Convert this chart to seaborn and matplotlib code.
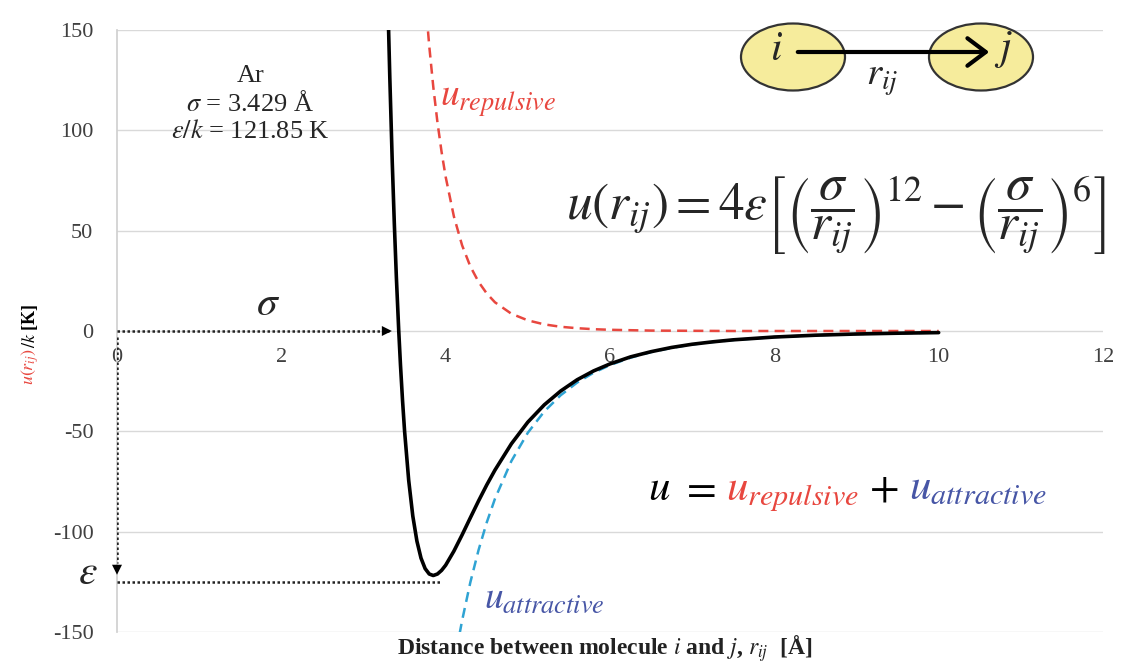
import matplotlib
matplotlib.use("Agg")
import matplotlib.pyplot as plt
from matplotlib.patches import Ellipse, FancyArrowPatch
import seaborn as sns

# Lennard-Jones parameters for argon (shown in the annotation)
sigma = 3.429
eps_k = 121.85

# total potential u(r)/k [K]
r_total = [3.30, 3.32, 3.35, 3.375, 3.40, 3.429, 3.45, 3.475, 3.50, 3.55, 3.60, 3.65,
           3.70, 3.75, 3.80, 3.849, 3.90, 3.95, 4.00, 4.10, 4.20, 4.30, 4.40, 4.50,
           4.60, 4.80, 5.00, 5.20, 5.40, 5.60, 5.80, 6.00, 6.25, 6.50, 6.75, 7.00,
           7.25, 7.50, 8.00, 8.50, 9.00, 9.50, 10.00]
u_total = [158.7, 126.6, 84.1, 53.6, 26.8, 0.0, -16.9, -34.6, -49.9, -74.4, -92.2, -104.7,
           -113.2, -118.4, -121.1, -121.85, -121.1, -119.3, -116.7, -109.7, -101.6, -93.1, -84.7, -76.7,
           -69.3, -56.2, -45.4, -36.8, -29.9, -24.3, -19.9, -16.4, -12.9, -10.3, -8.2, -6.6,
           -5.4, -4.4, -3.0, -2.1, -1.5, -1.1, -0.8]

# repulsive part (red dashed)
r_rep = [3.75, 3.80, 3.85, 3.90, 3.95, 4.00, 4.10, 4.20, 4.30, 4.40, 4.50, 4.60, 4.80,
         5.00, 5.20, 5.40, 5.60, 5.80, 6.00, 6.50, 7.00, 7.50, 8.00, 9.00, 10.00]
u_rep = [166.5, 142.1, 121.4, 104.0, 89.3, 76.8, 57.1, 42.7, 32.2, 24.5, 18.7, 14.3, 8.6,
         5.3, 3.3, 2.1, 1.4, 0.9, 0.6, 0.2, 0.1, 0.0, 0.0, 0.0, 0.0]

# attractive part (blue dashed)
r_att = [4.10, 4.15, 4.20, 4.30, 4.40, 4.50, 4.60, 4.80, 5.00, 5.20, 5.40, 5.60, 5.80,
         6.00, 6.25, 6.50, 6.75, 7.00, 7.25, 7.50, 8.00, 8.50, 9.00, 9.50, 10.00]
u_att = [-166.8, -155.1, -144.3, -125.3, -109.2, -95.4, -83.6, -64.8, -50.7, -40.1, -32.0,
         -25.7, -20.8, -17.0, -13.3, -10.5, -8.4, -6.7, -5.5, -4.5, -3.0, -2.1, -1.5, -1.1, -0.8]

x_ticks = [0, 2, 4, 6, 8, 10, 12]
y_ticks = [-150, -100, -50, 0, 50, 100, 150]

RED = "#e8473f"
BLUE_LINE = "#2fa3d3"
BLUE_TXT = "#4756a6"
W, H = 1121, 666

sns.set_theme(style="white")
plt.rcParams["font.family"] = ["Liberation Serif", "DejaVu Serif"]
plt.rcParams["mathtext.fontset"] = "stix"
plt.rcParams["axes.unicode_minus"] = False

fig = plt.figure(figsize=(W / 100, H / 100), dpi=100)
ax = fig.add_axes([117 / W, 1 - 632 / H, (1103 - 117) / W, (632 - 30) / H])


def px(x, y):
    # image pixel -> figure fraction
    return x / W, 1 - y / H


# curves
sns.lineplot(x=r_rep, y=u_rep, ax=ax, color=RED, lw=1.8, linestyle=(0, (4, 2.5)),
             sort=False, estimator=None, zorder=3)
sns.lineplot(x=r_att, y=u_att, ax=ax, color=BLUE_LINE, lw=1.8, linestyle=(0, (4, 2.5)),
             sort=False, estimator=None, zorder=3)
sns.lineplot(x=r_total, y=u_total, ax=ax, color="black", lw=2.6,
             sort=False, estimator=None, zorder=4)

ax.set_xlim(0, 12)
ax.set_ylim(-150, 150)
ax.set_xticks(x_ticks)
ax.set_yticks(y_ticks)
ax.grid(axis="y", color="#d9d9d9", lw=1)
ax.set_axisbelow(True)
for s in ["top", "right"]:
    ax.spines[s].set_visible(False)
ax.spines["left"].set_color("#d0d0d0")
ax.spines["bottom"].set_position(("data", 0))
ax.spines["bottom"].set_visible(False)
ax.tick_params(axis="y", length=5, color="#d0d0d0", pad=12, labelsize=16, labelcolor="#404040")
ax.tick_params(axis="x", length=4, color="#d0d0d0", pad=12, labelsize=16, labelcolor="#404040",
               direction="in")
ax.set_xlabel("")
ax.set_ylabel("")

# sigma / epsilon guides
dot = dict(color="#222222", lw=1.8, linestyle=(0, (1, 1)), zorder=5)
ax.plot([0, sigma - 0.12], [0, 0], **dot)
ax.annotate("", xy=(sigma - 0.05, 0), xytext=(sigma - 0.15, 0),
            arrowprops=dict(arrowstyle="-|>", color="black", mutation_scale=18, lw=0), zorder=6)
ax.plot([0, 0], [-3, -eps_k + 6], **dot)
ax.annotate("", xy=(0, -eps_k - 1), xytext=(0, -eps_k + 6),
            arrowprops=dict(arrowstyle="-|>", color="black", mutation_scale=18, lw=0),
            annotation_clip=False, zorder=6)
ax.plot([0, 3.93], [-eps_k - 3, -eps_k - 3], **dot, clip_on=False)

ax.text(1.84, 13, r"$\sigma$", fontsize=30, ha="center", va="center")
ax.text(-0.36, -121, r"$\varepsilon$", fontsize=30, ha="center", va="center", clip_on=False)

ax.text(1.62, 113, "Ar\n" + r"$\sigma$" + " = 3.429 Å\n" + r"$\varepsilon/k$" + " = 121.85 K",
        fontsize=19, ha="center", va="center", linespacing=1.2)

ax.text(3.93, 112, r"$u_{repulsive}$", fontsize=27, color=RED, ha="left", va="baseline")
ax.text(4.47, -138, r"$u_{attractive}$", fontsize=27, color=BLUE_TXT, ha="left", va="baseline")

# Lennard-Jones formula
fig.text(*px(836, 215),
         r"$u(r_{ij}) = 4\varepsilon\left[\left(\dfrac{\sigma}{r_{ij}}\right)^{12}"
         r" - \left(\dfrac{\sigma}{r_{ij}}\right)^{6}\right]$",
         fontsize=37, ha="center", va="center")

# molecules i and j
for cx in (793, 981):
    fig.add_artist(Ellipse(px(cx, 57), 104 / W, 67 / H, transform=fig.transFigure,
                           facecolor="#f6ec9c", edgecolor="#333333", lw=1.6, zorder=1))
fig.add_artist(FancyArrowPatch(px(795, 52), px(992, 52), transform=fig.transFigure,
                               arrowstyle="->,head_length=0.6,head_width=0.45",
                               mutation_scale=22, lw=3, color="black", zorder=2))
fig.text(*px(776, 50), r"$i$", fontsize=30, ha="center", va="center", zorder=3)
fig.text(*px(1003, 50), r"$j$", fontsize=30, ha="center", va="center", zorder=3)
fig.text(*px(882, 80), r"$r_{ij}$", fontsize=28, ha="center", va="center")

# colored sum line, pieces placed one after another
fig.canvas.draw()
renderer = fig.canvas.get_renderer()
pieces = [(r"$u$", "black"), (r"$=$", "black"), (r"$u_{repulsive}$", RED),
          (r"$+$", "black"), (r"$u_{attractive}$", BLUE_TXT)]
x0, y0 = px(648, 500)
for text, col in pieces:
    t = fig.text(x0, y0, text, fontsize=31, color=col, ha="left", va="baseline")
    bb = t.get_window_extent(renderer)
    x0 += (bb.width + 10) / W

# y label: red u(r_ij) then black /k [K]
xl, yl = px(30, 385)
t1 = fig.text(xl, yl, r"$u(r_{ij})$", fontsize=13, color=RED, rotation=90,
              ha="center", va="bottom")
bb = t1.get_window_extent(renderer)
fig.text(xl, bb.y1 / H, "/$k$ [K]", fontsize=13, fontweight="bold", color="black",
         rotation=90, ha="center", va="bottom")

fig.text(*px(605, 649), r"Distance between molecule $i$ and $j$, $r_{ij}$  [Å]",
         fontsize=17, fontweight="bold", ha="center", va="center", color="#222222")

fig.savefig("out.png", dpi=100, facecolor="white")
